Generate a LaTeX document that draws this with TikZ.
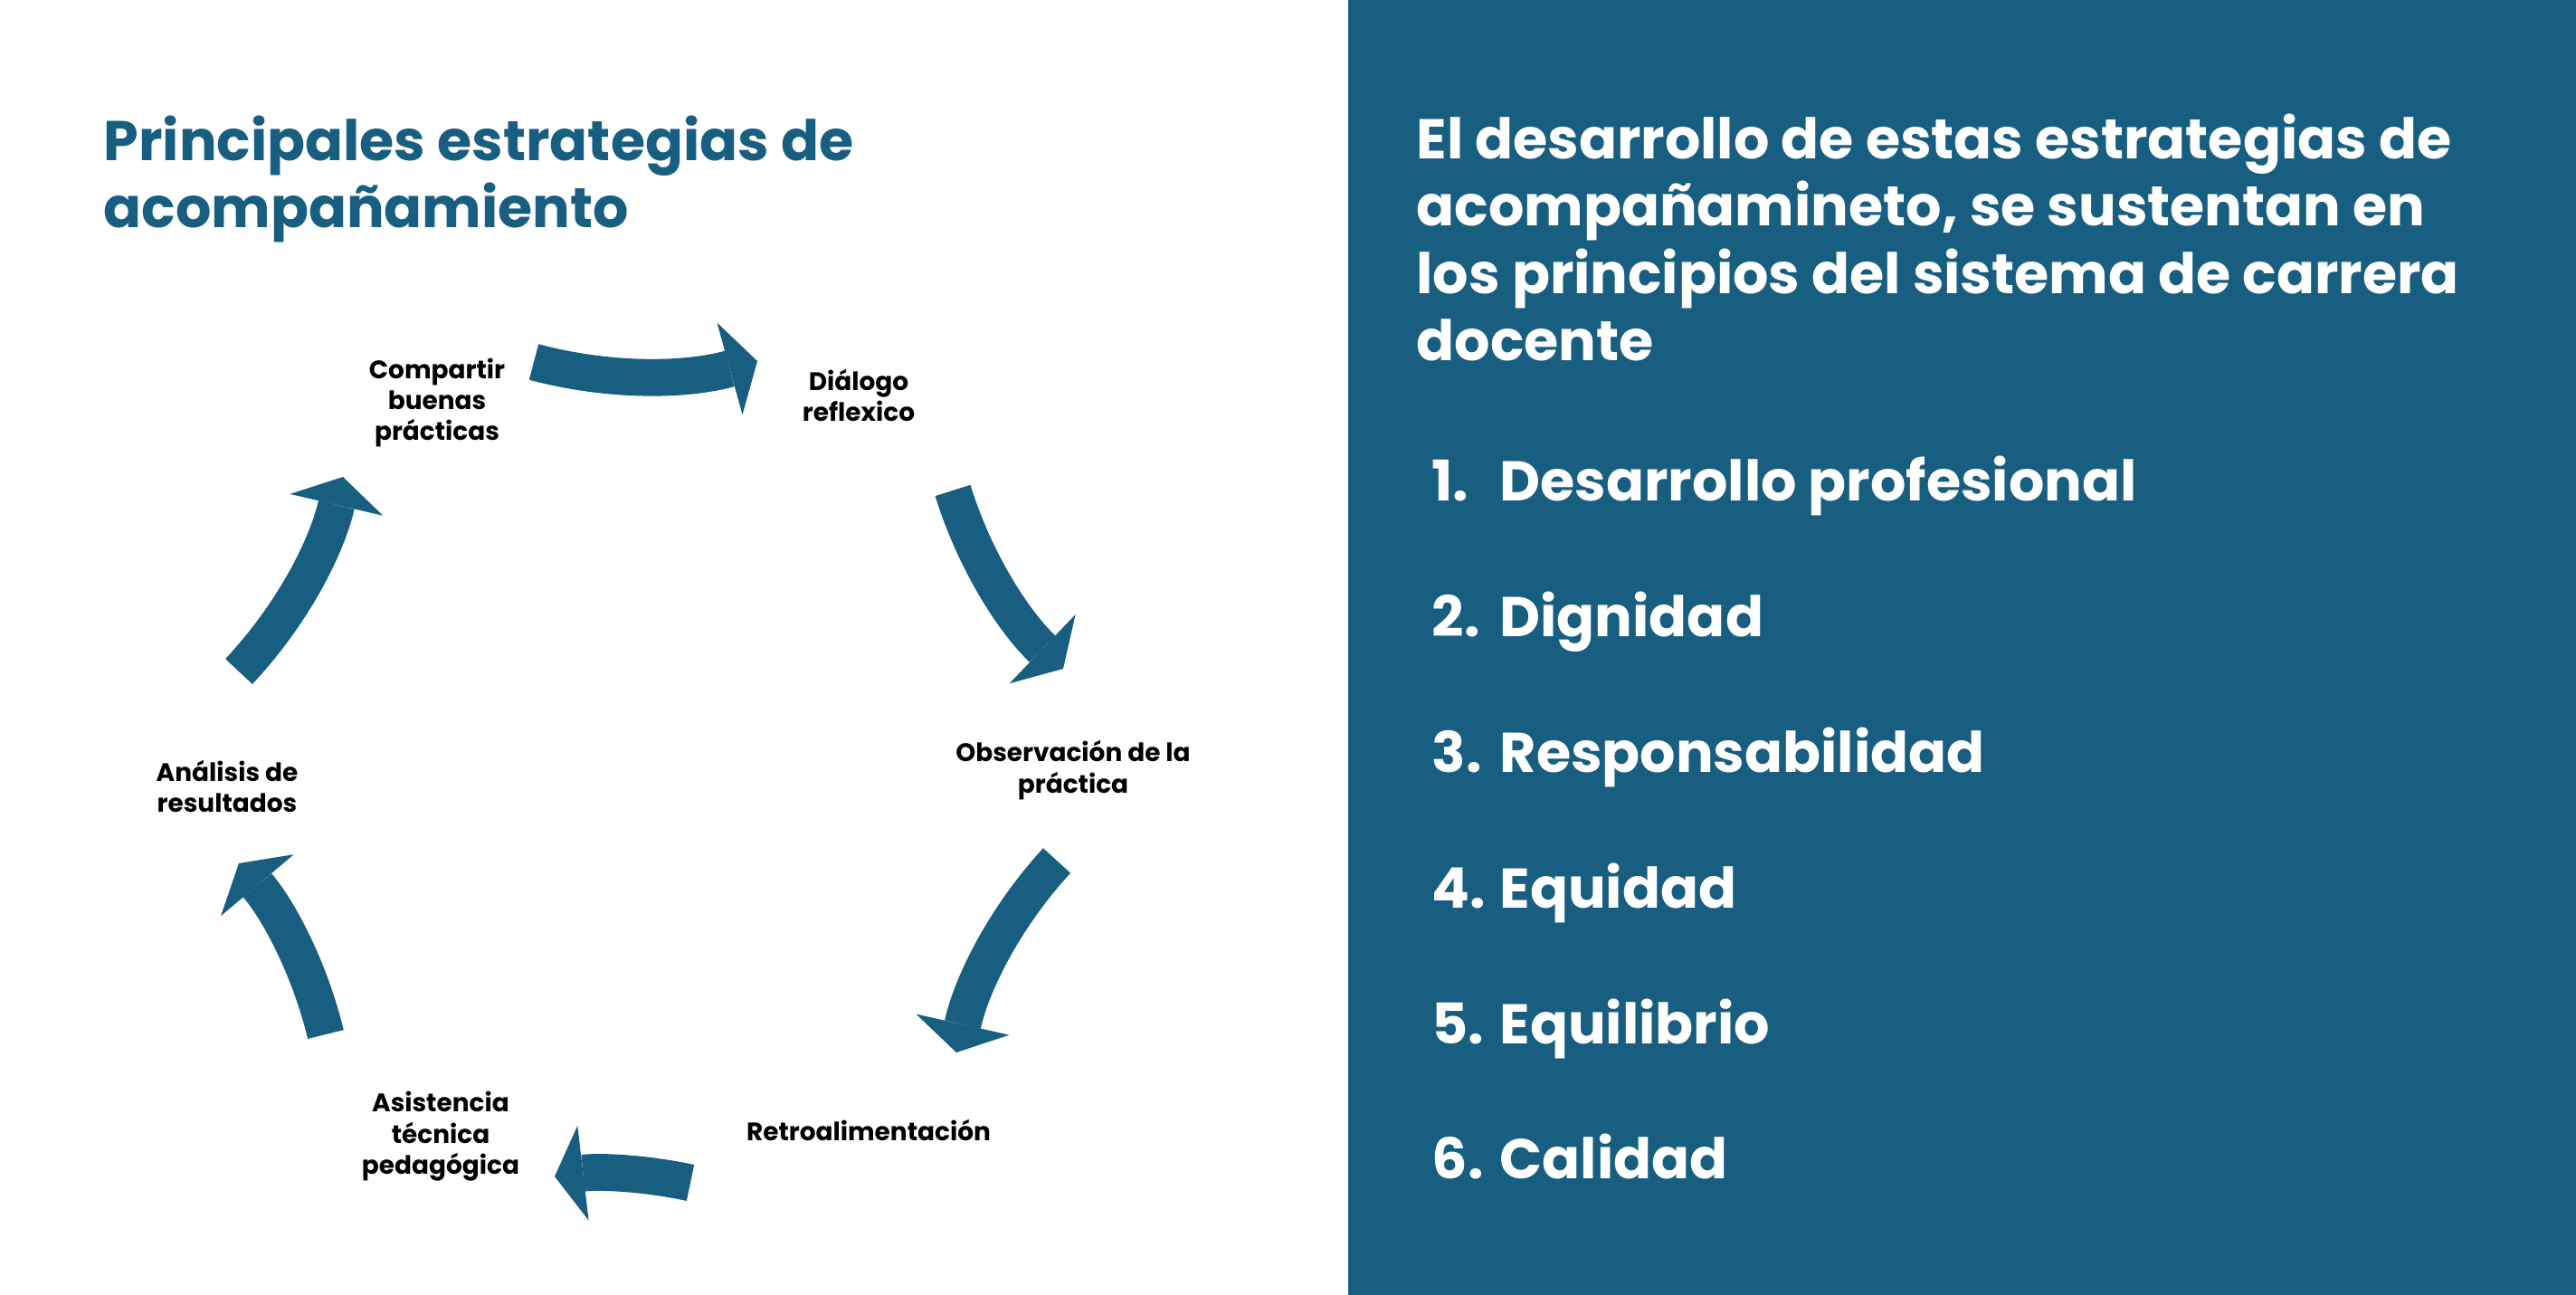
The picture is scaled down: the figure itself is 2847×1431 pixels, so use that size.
\documentclass[tikz,border=0pt]{standalone}
\usepackage{fontspec}
\setmainfont{Poppins}
\usetikzlibrary{arrows.meta,positioning,calc}
\definecolor{panelblue}{RGB}{24,94,129}

\begin{document}
\begin{tikzpicture}[x=0.01cm, y=-0.01cm,
    lbl/.style={align=center, inner sep=0pt, font=\bfseries\fontsize{7.95pt}{9.8pt}\selectfont},
    cyc/.style={draw=panelblue, line width=11.6pt, looseness=0.87,
      -{Triangle[length=9pt, width=30pt, line width=0pt]}},
    head/.style={anchor=base west, align=left, inner sep=0pt, font=\bfseries\fontsize{17.6pt}{21.2pt}\selectfont},
    item/.style={anchor=base west, inner sep=0pt, text=white, font=\bfseries\fontsize{17.6pt}{20pt}\selectfont}
  ]
    % page and right panel
    \fill[white] (0,0) rectangle (1490,1431);
    \fill[panelblue] (1490,0) rectangle (2847,1431);
    \useasboundingbox (0,0) rectangle (2847,1431);

    % left: title and cycle (base = last line)
    \node[head, text=panelblue] (ttl) at (114,252) {Principales estrategias de\\acompañamiento};

    \node[lbl] (cmp) at (483,445) {Compartir\\buenas\\prácticas};
    \node[lbl] (dlg) at (949,437) {Diálogo\\reflexico};
    \node[lbl] (obs) at (1186,851) {Observación de la\\práctica};
    \node[lbl] (ret) at (960,1249) {Retroalimentación};
    \node[lbl] (ast) at (487,1256) {Asistencia\\técnica\\pedagógica};
    \node[lbl] (ana) at (251,869) {Análisis de\\resultados};

    \coordinate (t1) at (590,400);  \coordinate (h1) at (837,399);
    \coordinate (t2) at (1053,542); \coordinate (h2) at (1175,739);
    \coordinate (t3) at (1168,951); \coordinate (h3) at (1057,1163);
    \coordinate (t4) at (763,1307); \coordinate (h4) at (613,1300);
    \coordinate (t5) at (360,1143); \coordinate (h5) at (264,954);
    \coordinate (t6) at (264,742);  \coordinate (h6) at (379,527);

    \draw[cyc] (t1) to[bend right=15.2] (h1);
    \draw[cyc] (t2) to[bend right=14.5] (h2);
    \draw[cyc] (t3) to[bend right=15] (h3);
    \draw[cyc] (t4) to[bend right=9.4] (h4);
    \draw[cyc] (t5) to[bend right=13.2] (h5);
    \draw[cyc] (t6) to[bend right=15.1] (h6);

    % right: principles
    \node[head, text=white] (hdr) at (1565,399) {El desarrollo de estas estrategias de\\acompañamineto, se sustentan en\\los principios del sistema de carrera\\docente};

    \foreach \n/\t [count=\i from 0] in {1/Desarrollo profesional, 2/Dignidad, 3/Responsabilidad, 4/Equidad, 5/Equilibrio, 6/Calidad}{
      \node[item] (num\n) at (1582,{554+149.8*\i}) {\n.};
      \node[item] (prc\n) at (1657,{554+149.8*\i}) {\t};
    }
  \end{tikzpicture}
\end{document}
